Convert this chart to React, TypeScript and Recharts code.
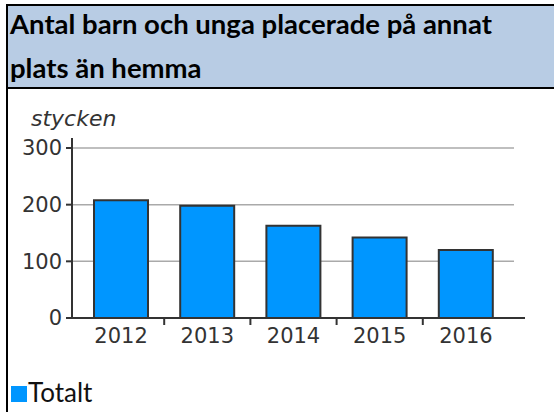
import React from 'react';
import { BarChart, Bar, XAxis, YAxis, CartesianGrid, Legend } from 'recharts';

const years = ['2012', '2013', '2014', '2015', '2016'];
const totalt = [208, 198, 163, 142, 120];
const yTicks = [0, 100, 200, 300];

const data = years.map((year, i) => ({ year, Totalt: totalt[i] }));

const AXIS_FONT = '"DejaVu Sans", Verdana, sans-serif';

// year label plus a small separator tick on the left edge of each band (not the first)
function YearTick(props: any) {
  const { x, y, payload, index } = props;
  const half = payload && payload.offset ? payload.offset : 43;
  return (
    <g>
      {index > 0 && (
        <line x1={x - half} x2={x - half} y1={y} y2={y + 7} stroke="#333" strokeWidth={2} />
      )}
      <text x={x} y={y + 25} textAnchor="middle" fill="#333" fontSize={21} fontFamily={AXIS_FONT}>
        {payload.value}
      </text>
    </g>
  );
}

function LegendContent(props: any) {
  const { payload } = props;
  return (
    <div style={{ display: 'flex', alignItems: 'flex-end' }}>
      {(payload || []).map((entry: any) => (
        <div key={entry.value} style={{ display: 'flex', alignItems: 'flex-end' }}>
          <span style={{ display: 'inline-block', width: 16, height: 16, background: entry.color, marginBottom: 4 }} />
          <span style={{ fontFamily: 'Lato, sans-serif', fontSize: 26, color: '#111', lineHeight: '28px', marginLeft: 1 }}>
            {entry.value}
          </span>
        </div>
      ))}
    </div>
  );
}

export default function App() {
  return (
    <div style={{ position: 'absolute', left: 0, top: 0, width: 554, height: 412, overflow: 'hidden', background: '#fff' }}>
      <div style={{ position: 'absolute', left: 6, top: 4, width: 600, height: 600, border: '2px solid #000' }} />
      <div style={{ position: 'absolute', left: 8, top: 6, width: 600, height: 81, background: '#B8CCE4', borderBottom: '2px solid #000' }} />
      <div
        style={{
          position: 'absolute',
          left: 10,
          top: 2,
          fontFamily: 'Lato, sans-serif',
          fontWeight: 700,
          fontSize: 27.5,
          lineHeight: '44px',
          color: '#000',
          width: 540,
        }}
      >
        Antal barn och unga placerade på annat
        <br />
        plats än hemma
      </div>
      <div
        style={{
          position: 'absolute',
          left: 31,
          top: 106,
          fontFamily: AXIS_FONT,
          fontStyle: 'italic',
          fontSize: 22,
          color: '#333',
          lineHeight: '26px',
        }}
      >
        stycken
      </div>
      <div style={{ position: 'absolute', left: 0, top: 0 }}>
        <BarChart width={554} height={412} data={data} margin={{ top: 138, right: 29, bottom: 64, left: 0 }}>
          <CartesianGrid vertical={false} x={72} width={442} stroke="#aaa" strokeWidth={1.5} syncWithTicks />
          <XAxis
            dataKey="year"
            height={30}
            padding={{ left: 6, right: 16 }}
            axisLine={{ stroke: '#333', strokeWidth: 2 }}
            tickLine={false}
            tickSize={0}
            tickMargin={0}
            tick={<YearTick />}
            interval={0}
          />
          <YAxis
            width={72}
            domain={[0, 300]}
            ticks={yTicks}
            padding={{ top: 10 }}
            axisLine={{ stroke: '#333', strokeWidth: 2 }}
            tickLine={{ stroke: '#333', strokeWidth: 2 }}
            tickSize={6}
            tickMargin={4}
            tick={{ fill: '#333', fontSize: 21, fontFamily: AXIS_FONT }}
          />
          <Legend
            layout="horizontal"
            verticalAlign="middle"
            align="center"
            content={<LegendContent />}
            wrapperStyle={{ top: 378, left: 11, width: 200 }}
          />
          <Bar dataKey="Totalt" fill="#0096FF" stroke="#333" strokeWidth={2} barSize={54} isAnimationActive={false} />
        </BarChart>
      </div>
    </div>
  );
}
